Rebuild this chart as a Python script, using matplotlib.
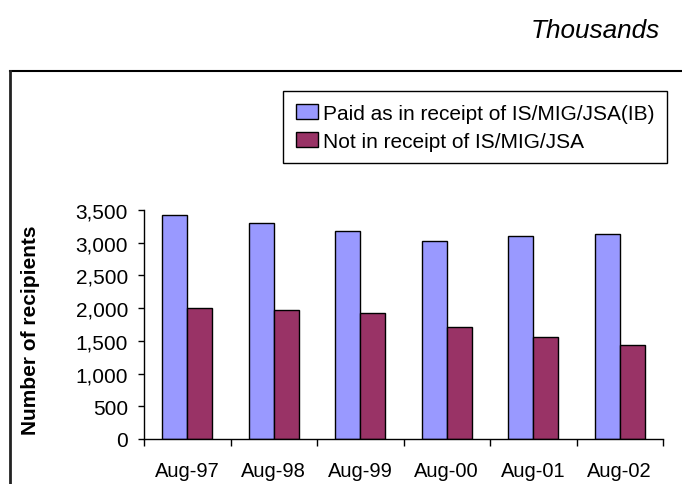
import matplotlib
matplotlib.use("Agg")
import matplotlib.pyplot as plt
from matplotlib.lines import Line2D
from matplotlib.patches import Rectangle
from matplotlib.legend_handler import HandlerPatch
from matplotlib.ticker import FuncFormatter
import numpy as np

plt.rcParams['font.family'] = ['Liberation Sans', 'DejaVu Sans']

categories = ['Aug-97', 'Aug-98', 'Aug-99', 'Aug-00', 'Aug-01', 'Aug-02']
paid_as_is = [3428, 3300, 3175, 3025, 3103, 3128]
not_is = [2005, 1978, 1930, 1712, 1565, 1442]
series_names = ['Paid as in receipt of IS/MIG/JSA(IB)', 'Not in receipt of IS/MIG/JSA']
colors = ['#9999FF', '#993366']


def small_square(legend, orig_handle, xdescent, ydescent, width, height, fontsize):
    # Excel-style legend key: a small square sitting at the right end of the handle box
    s = 0.62 * fontsize
    return Rectangle((-xdescent + width - s, -ydescent + (height - s) / 2), s, s)


fig = plt.figure(figsize=(6.82, 4.85), dpi=100)
ax = fig.add_axes([144 / 682, 1 - 440 / 485, 519 / 682, 229 / 485])

x = np.arange(len(categories))
w = 0.29
ax.bar(x - w / 2, paid_as_is, w, color=colors[0], edgecolor='black', linewidth=1, label=series_names[0])
ax.bar(x + w / 2, not_is, w, color=colors[1], edgecolor='black', linewidth=1, label=series_names[1])

ax.set_xlim(-0.5, len(categories) - 0.5)
ax.set_ylim(0, 3500)
ax.set_yticks(np.arange(0, 3501, 500))
ax.yaxis.set_major_formatter(FuncFormatter(lambda v, p: f'{int(v):,}'))
ax.set_xticks(x)
ax.set_xticklabels(categories)
ax.set_xticks(np.arange(-0.5, len(categories)), minor=True)
ax.tick_params(axis='x', which='major', length=0, pad=15.5, labelsize=14.5)
ax.tick_params(axis='x', which='minor', length=5, width=1, direction='out')
ax.tick_params(axis='y', length=4.5, width=1, direction='out', labelsize=15, pad=7)

for s in ['top', 'right']:
    ax.spines[s].set_visible(False)
for s in ['left', 'bottom']:
    ax.spines[s].set_linewidth(1)

ax.set_ylabel('Number of recipients', fontsize=15, fontweight='bold')
ax.yaxis.set_label_coords(-0.2, 0.478)

leg = ax.legend(loc='upper right', bbox_to_anchor=(667 / 682, 1 - 92 / 485),
                bbox_transform=fig.transFigure, fancybox=False, edgecolor='black',
                framealpha=1, fontsize=15, handlelength=1.05, handleheight=0.7,
                handletextpad=0.25, labelspacing=0.45, borderpad=0.6, borderaxespad=0,
                handler_map={Rectangle: HandlerPatch(patch_func=small_square)})
leg.get_frame().set_linewidth(1)

# outer chart area border (runs off the page on the right and bottom)
fig.add_artist(Line2D([10 / 682, 1.0], [1 - 72 / 485] * 2, color='black', lw=1.5, transform=fig.transFigure))
fig.add_artist(Line2D([10 / 682] * 2, [0.0, 1 - 72 / 485], color='#222222', lw=2, transform=fig.transFigure))

fig.text(660 / 682, 1 - 31 / 485, 'Thousands', fontsize=18.8, style='italic', ha='right', va='center')

fig.savefig('out.png', dpi=100)
